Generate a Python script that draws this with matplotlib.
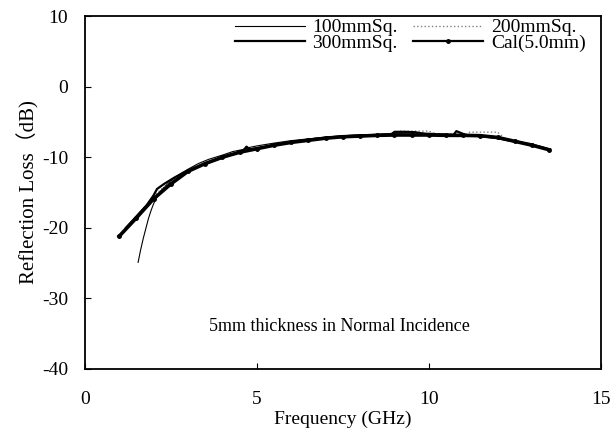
import matplotlib.pyplot as plt

plt.rcParams['font.family'] = ['Liberation Serif', 'Noto Sans CJK JP']
plt.rcParams['axes.unicode_minus'] = False

# calculated curve for 5.0 mm
freq_cal = [1.0, 1.5, 2.0, 2.5, 3.0, 3.5, 4.0, 4.5, 5.0, 5.5, 6.0, 6.5, 7.0, 7.5,
            8.0, 8.5, 9.0, 9.5, 10.0, 10.5, 11.0, 11.5, 12.0, 12.5, 13.0, 13.5]
rl_cal = [-21.2, -18.6, -15.9, -13.8, -12.0, -10.9, -10.0, -9.3, -8.8, -8.3, -7.9,
          -7.6, -7.3, -7.1, -7.0, -6.9, -6.85, -6.85, -6.85, -6.9, -6.9, -6.95,
          -7.2, -7.75, -8.3, -8.95]

# measured samples
freq_100 = [1.55, 1.62, 1.7, 1.78, 1.85, 1.93, 2.0, 2.1, 2.2, 2.4, 2.6, 2.8, 3.0,
            3.3, 3.6, 4.0, 4.3, 4.6, 4.8, 5.0, 5.5, 6.0, 6.5, 7.0, 7.5, 8.0, 8.5,
            9.0, 9.5, 10.0, 10.5, 11.0, 11.5, 12.0, 12.5, 13.0, 13.5]
rl_100 = [-24.9, -23.2, -21.5, -20.0, -18.7, -17.5, -16.6, -15.6, -14.8, -13.8,
          -13.0, -12.3, -11.7, -10.9, -10.3, -9.7, -9.2, -8.9, -8.6, -8.4, -8.0,
          -7.65, -7.4, -7.15, -6.95, -6.85, -6.75, -6.6, -6.55, -6.6, -6.7, -6.8,
          -6.9, -7.1, -7.7, -8.3, -9.0]

freq_200 = [1.3, 1.6, 1.9, 2.2, 2.5, 2.8, 3.1, 3.5, 4.0, 4.5, 5.0, 5.5, 6.0, 6.5,
            7.0, 7.5, 8.0, 8.5, 9.0, 9.1, 9.5, 10.0, 10.2, 10.5, 11.0, 11.2, 11.6,
            12.0, 12.2, 12.5, 12.9, 13.2, 13.5]
rl_200 = [-19.6, -17.9, -16.2, -14.6, -13.5, -12.5, -11.8, -10.9, -10.0, -9.3,
          -8.75, -8.25, -7.85, -7.5, -7.25, -7.05, -6.9, -6.85, -6.7, -6.3, -6.3,
          -6.3, -6.7, -6.85, -6.9, -6.45, -6.45, -6.45, -7.3, -7.6, -8.0, -8.5,
          -8.85]

freq_300 = [1.2, 1.5, 1.8, 2.0, 2.1, 2.3, 2.6, 2.9, 3.2, 3.5, 3.8, 4.1, 4.4, 4.6,
            4.7, 4.8, 4.9, 5.2, 5.6, 6.0, 6.5, 7.0, 7.5, 8.0, 8.5, 8.9, 9.0, 9.3,
            9.6, 10.0, 10.4, 10.7, 10.8, 11.1, 11.5, 12.0, 12.3, 12.6, 13.0, 13.3,
            13.5]
rl_300 = [-20.0, -18.4, -16.8, -15.4, -14.5, -13.8, -12.9, -12.1, -11.5, -10.9,
          -10.4, -9.9, -9.4, -9.1, -8.5, -8.9, -8.8, -8.6, -8.2, -7.85, -7.5,
          -7.25, -7.05, -6.9, -6.85, -6.8, -6.4, -6.4, -6.45, -6.8, -6.9, -6.95,
          -6.3, -6.9, -7.0, -7.3, -7.6, -7.85, -8.2, -8.6, -8.9]

fig = plt.figure(figsize=(6.1, 4.36), dpi=100)
ax = fig.add_axes([0.139, 0.154, 0.846, 0.809])

l100, = ax.plot(freq_100, rl_100, color='black', lw=0.8, label='100mmSq.')
l200, = ax.plot(freq_200, rl_200, color='gray', lw=1.0, ls=':', label='200mmSq.')
l300, = ax.plot(freq_300, rl_300, color='black', lw=1.6, label='300mmSq.')
lcal, = ax.plot(freq_cal, rl_cal, color='black', lw=2.6, marker='o', ms=2.5,
                label='Cal(5.0mm)')

ax.set_xlim(0, 15)
ax.set_ylim(-40, 10)
ax.set_xticks([0, 5, 10, 15])
ax.set_yticks([-40, -30, -20, -10, 0, 10])
ax.tick_params(direction='in', length=4, labelsize=14, pad=12)
ax.tick_params(axis='x', pad=16)
for s in ax.spines.values():
    s.set_linewidth(1.3)

ax.set_xlabel('Frequency (GHz)', fontsize=14, labelpad=2)
ax.set_ylabel('Reflection Loss（dB)', fontsize=15, labelpad=2)

ax.text(7.4, -34, '5mm thickness in Normal Incidence', fontsize=13,
        ha='center', va='center')

# two columns filled row by row
leg = ax.legend([l100, l300, l200, lcal],
                ['100mmSq.', '300mmSq.', '200mmSq.', 'Cal(5.0mm)'],
                ncol=2, loc='upper right', frameon=False, fontsize=14,
                handlelength=3.6, labelspacing=-0.1, columnspacing=0.8,
                handletextpad=0.4, borderaxespad=0.1,
                bbox_to_anchor=(0.99, 1.02))
leg.get_lines()[3].set_linewidth(1.6)

fig.savefig('out.png', dpi=100)
